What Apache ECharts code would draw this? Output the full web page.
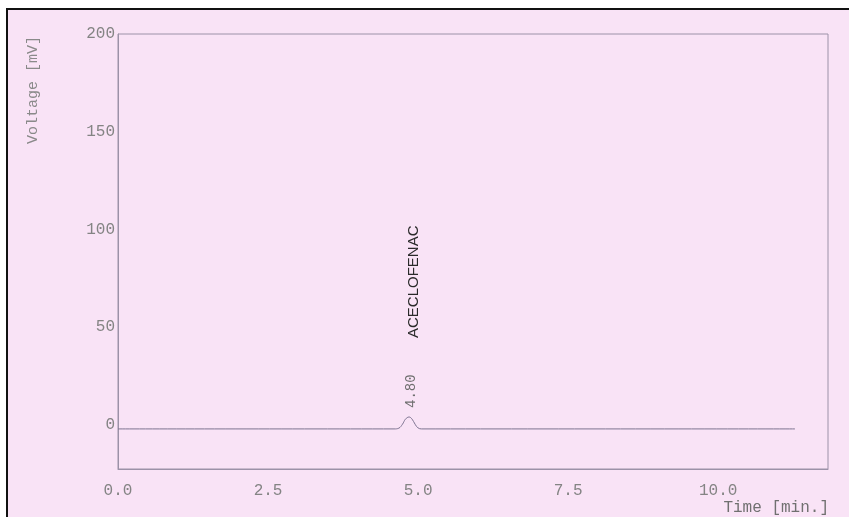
<!DOCTYPE html>
<html>
<head>
<meta charset="utf-8">
<script src="https://cdn.jsdelivr.net/npm/echarts@6.0.0/dist/echarts.min.js"></script>
<style>
  html, body { margin: 0; padding: 0; background: #ffffff; }
  #frame { position: absolute; left: 6px; top: 8px; width: 843px; height: 509px;
           border-left: 2px solid #111; border-top: 2px solid #111; box-sizing: border-box; background: #f9e3f6; }
  #main { position: absolute; left: 0; top: 0; width: 849px; height: 517px; }
</style>
</head>
<body>
<div id="frame"></div>
<div id="main"></div>
<script>
// chromatogram trace (time in min, voltage in mV)
var timeMin = [0.0, 4.60, 4.68, 4.74, 4.79, 4.85, 4.90, 4.95, 5.00, 5.06, 11.28];
var voltage = [-2.0, -2.0, -1.6, 0.4, 3.0, 4.1, 3.0, 0.4, -1.5, -2.0, -2.0];
var yTicks = [0, 50, 100, 150, 200];
var xTicks = [0, 2.5, 5, 7.5, 10];
var peakTime = 4.85;
var peakHeight = 4.1;
var peakLabel = '4.80';
var peakName = 'ACECLOFENAC';

var trace = [];
for (var i = 0; i < timeMin.length; i++) {
  trace.push([timeMin[i], voltage[i]]);
}

var mono = '"Liberation Mono", "DejaVu Sans Mono", monospace';
var axisCol = '#9c92a8';

var chart = echarts.init(document.getElementById('main'), null, { renderer: 'canvas' });
chart.setOption({
  backgroundColor: 'transparent',
  animation: false,
  grid: {
    left: 118, right: 21, top: 34, bottom: 48,
    show: true, borderColor: axisCol, borderWidth: 1
  },
  xAxis: {
    type: 'value',
    min: 0,
    max: 11.83,
    axisLine: { show: true, onZero: false, lineStyle: { color: axisCol } },
    axisTick: { show: false },
    splitLine: { show: false },
    axisLabel: {
      customValues: xTicks,
      margin: 14,
      color: '#848484',
      fontFamily: mono,
      fontSize: 16,
      formatter: function (v) { return v.toFixed(1); }
    }
  },
  yAxis: {
    type: 'value',
    min: -22.5,
    max: 200,
    axisLine: { show: true, onZero: false, lineStyle: { color: axisCol } },
    axisTick: { show: false },
    splitLine: { show: false },
    axisLabel: {
      customValues: yTicks,
      margin: 3,
      color: '#848484',
      fontFamily: mono,
      fontSize: 16
    }
  },
  graphic: [
    {
      type: 'text', x: 33, y: 90, rotation: Math.PI / 2,
      style: { text: 'Voltage [mV]', fill: '#8a8a8a', font: '15px ' + mono, align: 'center', verticalAlign: 'middle' }
    },
    {
      type: 'text', x: 829, y: 508,
      style: { text: 'Time [min.]', fill: '#707070', font: '16px ' + mono, align: 'right', verticalAlign: 'middle' }
    }
  ],
  series: [{
    type: 'line',
    data: trace,
    smooth: 0.4,
    showSymbol: false,
    lineStyle: { color: '#7d7390', width: 1 },
    markPoint: {
      symbol: 'circle',
      symbolSize: 0,
      data: [
        {
          coord: [peakTime, peakHeight],
          label: {
            show: true, formatter: peakLabel, rotate: 90, position: 'inside',
            align: 'left', verticalAlign: 'middle', offset: [9, 2],
            color: '#6f6f6f', fontFamily: mono, fontSize: 14
          }
        },
        {
          coord: [peakTime, peakHeight],
          label: {
            show: true, formatter: peakName, rotate: 90, position: 'inside',
            align: 'left', verticalAlign: 'middle', offset: [79, 5],
            color: '#2a2a2a', fontFamily: '"Liberation Sans", Arial, sans-serif', fontSize: 15
          }
        }
      ]
    }
  }]
});
</script>
</body>
</html>
